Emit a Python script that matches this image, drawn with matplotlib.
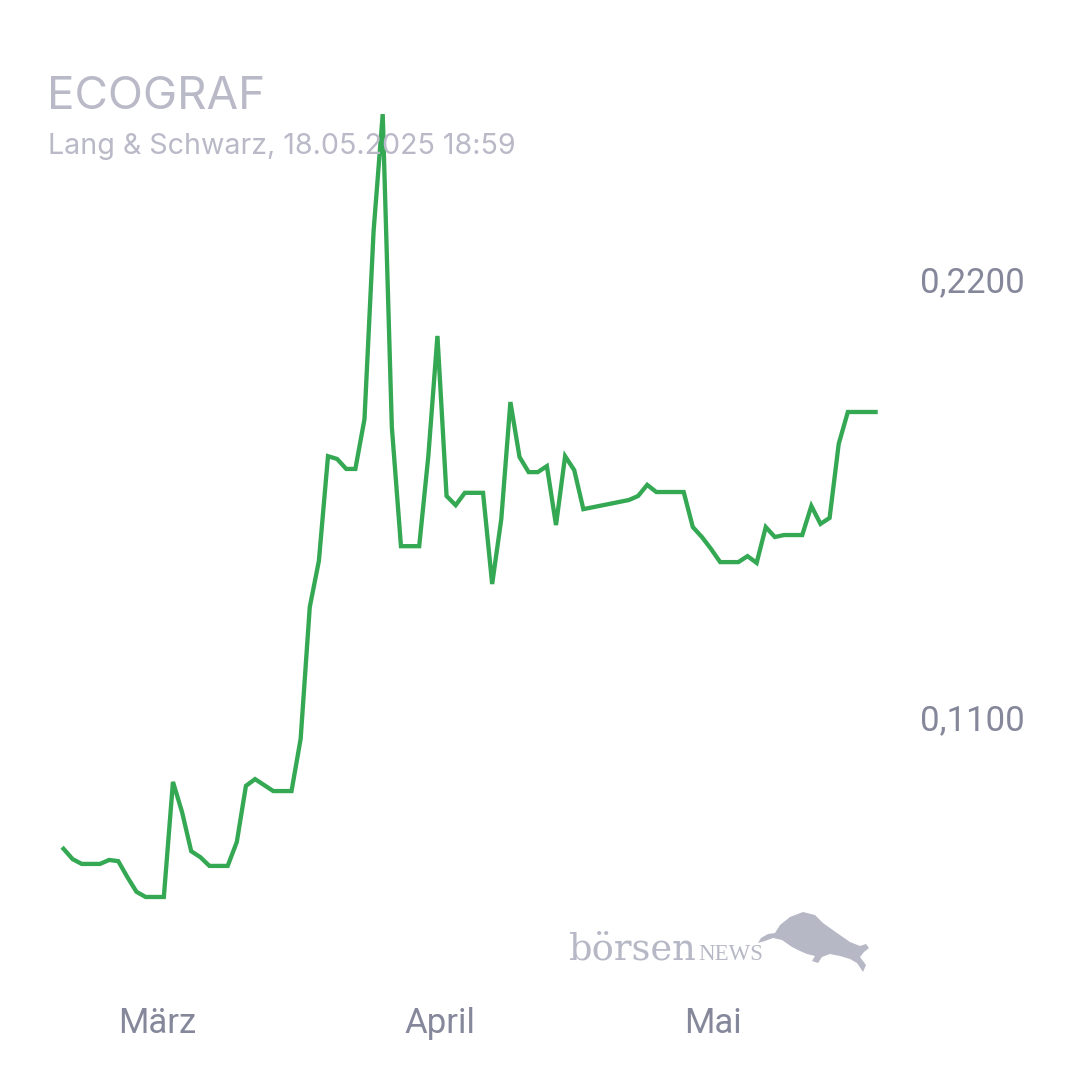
import numpy as np
import pandas as pd
import matplotlib
matplotlib.use("Agg")
import matplotlib.pyplot as plt
from matplotlib.patches import Polygon

# daily quotes (Lang & Schwarz), EUR
dates = [
    "2025-02-18", "2025-02-19", "2025-02-20", "2025-02-21", "2025-02-22", "2025-02-23",
    "2025-02-24", "2025-02-25", "2025-02-26", "2025-02-27", "2025-02-28", "2025-03-01",
    "2025-03-02", "2025-03-03", "2025-03-04", "2025-03-05", "2025-03-06", "2025-03-07",
    "2025-03-08", "2025-03-09", "2025-03-10", "2025-03-11", "2025-03-12", "2025-03-13",
    "2025-03-14", "2025-03-15", "2025-03-16", "2025-03-17", "2025-03-18", "2025-03-19",
    "2025-03-20", "2025-03-21", "2025-03-22", "2025-03-23", "2025-03-24", "2025-03-25",
    "2025-03-26", "2025-03-27", "2025-03-28", "2025-03-29", "2025-03-30", "2025-03-31",
    "2025-04-01", "2025-04-02", "2025-04-03", "2025-04-04", "2025-04-05", "2025-04-06",
    "2025-04-07", "2025-04-08", "2025-04-09", "2025-04-10", "2025-04-11", "2025-04-12",
    "2025-04-13", "2025-04-14", "2025-04-15", "2025-04-16", "2025-04-21", "2025-04-22",
    "2025-04-23", "2025-04-24", "2025-04-25", "2025-04-26", "2025-04-27", "2025-04-28",
    "2025-04-29", "2025-04-30", "2025-05-01", "2025-05-02", "2025-05-03", "2025-05-04",
    "2025-05-05", "2025-05-06", "2025-05-07", "2025-05-08", "2025-05-09", "2025-05-10",
    "2025-05-11", "2025-05-12", "2025-05-13", "2025-05-14", "2025-05-15", "2025-05-16",
    "2025-05-17", "2025-05-18",
]
prices = [
    0.0769, 0.0743, 0.0731, 0.0731, 0.0731, 0.0741,
    0.0738, 0.0698, 0.0661, 0.0648, 0.0648, 0.0648,
    0.0937, 0.0861, 0.0763, 0.0748, 0.0726, 0.0726,
    0.0726, 0.0786, 0.0927, 0.0944, 0.0929, 0.0914,
    0.0914, 0.0914, 0.1045, 0.1376, 0.1492, 0.1755,
    0.1748, 0.1723, 0.1723, 0.1848, 0.2321, 0.2614,
    0.1828, 0.1529, 0.1529, 0.1529, 0.1755, 0.2057,
    0.1655, 0.1632, 0.1663, 0.1663, 0.1663, 0.1434,
    0.1597, 0.1891, 0.1753, 0.1715, 0.1715, 0.1730,
    0.1582, 0.1755, 0.1720, 0.1622, 0.1645, 0.1655,
    0.1683, 0.1665, 0.1665, 0.1665, 0.1665, 0.1577,
    0.1552, 0.1522, 0.1489, 0.1489, 0.1489, 0.1504,
    0.1487, 0.1577, 0.1552, 0.1557, 0.1557, 0.1557,
    0.1630, 0.1585, 0.1600, 0.1786, 0.1866, 0.1866,
    0.1866, 0.1866,
]
quote_time = "18:00"
last_time = "18:59"

month_ticks = ["2025-03-01", "2025-04-01", "2025-05-01"]
month_labels = ["März", "April", "Mai"]
y_ticks = [0.11, 0.22]
y_labels = ["0,1100", "0,2200"]

title = "ECOGRAF"
subtitle = "Lang & Schwarz, 18.05.2025 18:59"

# timestamps: daily quote time, last one is the live quote
ts = pd.to_datetime([d + " " + quote_time for d in dates[:-1]] + [dates[-1] + " " + last_time])

W = H = 1080
fig = plt.figure(figsize=(10.8, 10.8), dpi=100)
fig.patch.set_facecolor("white")

# axes box in pixels: x 0..905, y 0..1000 (from top)
ax = fig.add_axes([0, 81 / H, 905 / W, 1000 / H])
ax.set_facecolor("none")

ax.plot(ts, prices, color="#34a853", linewidth=3.1, solid_joinstyle="miter", zorder=3)

# scales: 9.12 px per day, 0.11 per 438 px
mar1 = pd.Timestamp("2025-03-01")
px_day = 9.12
ax.set_xlim(mar1 - pd.Timedelta(days=157 / px_day), mar1 + pd.Timedelta(days=(905 - 157) / px_day))
k = 0.11 / 438
ax.set_ylim(0.22 - 720 * k, 0.22 + 280 * k)

for s in ax.spines.values():
    s.set_visible(False)

ax.set_xticks(pd.to_datetime(month_ticks))
ax.set_xticklabels(month_labels)
ax.yaxis.tick_right()
ax.set_yticks(y_ticks)
ax.set_yticklabels(y_labels)
ax.tick_params(axis="x", length=0, pad=6, labelsize=25, labelcolor="#85879a")
ax.tick_params(axis="y", length=0, pad=11, labelsize=25, labelcolor="#85879a")
for lab in ax.get_xticklabels() + ax.get_yticklabels():
    lab.set_fontfamily("Roboto")

# header
fig.text(47 / W, 1 - 97 / H, title, fontsize=33, color="#b9b9c8", family="Inter",
         ha="left", va="center")
fig.text(48 / W, 1 - 147 / H, subtitle, fontsize=20.6, color="#b9b9c8", family="Inter",
         ha="left", va="center", zorder=1)

# watermark logo
logo_col = "#b7b8c6"
fig.text(569 / W, 1 - 960 / H, "börsen", fontsize=26.5, color=logo_col,
         family="DejaVu Serif", ha="left", va="baseline")
fig.text(698 / W, 1 - 960 / H, "NEWS", fontsize=16.5, color=logo_col,
         family="Liberation Serif", ha="left", va="baseline")
bull = [(758, 943), (761, 938), (768, 934), (775, 933), (780, 925), (790, 917),
        (803, 912), (815, 915), (823, 923), (837, 933), (850, 942), (860, 946),
        (866, 944), (869, 948), (864, 952), (860, 957), (866, 965), (863, 972),
        (857, 963), (850, 959), (840, 956), (830, 954), (822, 957), (818, 963),
        (812, 961), (815, 956), (807, 954), (800, 951), (792, 947), (782, 940),
        (773, 938), (765, 941)]
bull_fig = [(x / W, 1 - y / H) for x, y in bull]
fig.add_artist(Polygon(bull_fig, closed=True, transform=fig.transFigure,
                       facecolor=logo_col, edgecolor="none", zorder=0))

fig.savefig("out.png", dpi=100, facecolor="white")
